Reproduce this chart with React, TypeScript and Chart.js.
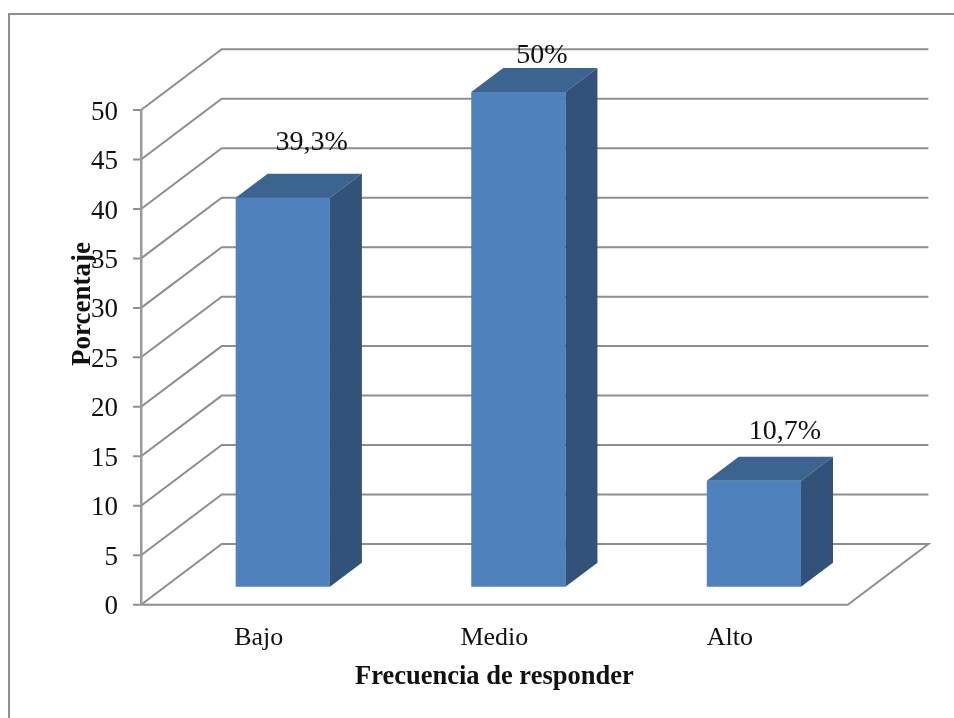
import React, { useEffect, useRef } from "react";
import { Chart, registerables } from "chart.js";

Chart.register(...registerables);

const categories = ["Bajo", "Medio", "Alto"];
const porcentaje = [39.3, 50, 10.7];
const valueLabels = ["39,3%", "50%", "10,7%"];
const yTitle = "Porcentaje";
const xTitle = "Frecuencia de responder";

const labelOffsetX = [29, 23.5, 31];
const labelOffsetY = [-56, -37, -50];

const FONT = "'Liberation Serif', 'Times New Roman', serif";
const GRID = "#8e8e8e";
const WALL_DX = 80.7;
const WALL_DY = 60.7;
const BAR_DX = 24;
const BAR_DY = 18;
const SIDE_DX = 32;
const SIDE_DY = 24;

const poly = (ctx: CanvasRenderingContext2D, pts: number[][], fill: string) => {
  ctx.beginPath();
  pts.forEach((p, i) => (i ? ctx.lineTo(p[0], p[1]) : ctx.moveTo(p[0], p[1])));
  ctx.closePath();
  ctx.fillStyle = fill;
  ctx.fill();
};

const plugin3d = {
  id: "plugin3d",
  beforeDraw(chart: any) {
    const { ctx, chartArea, scales } = chart;
    const y = scales.y;
    ctx.save();
    // outer frame
    ctx.strokeStyle = GRID;
    ctx.lineWidth = 2;
    ctx.beginPath();
    ctx.moveTo(9, chart.height);
    ctx.lineTo(9, 14);
    ctx.lineTo(chart.width, 14);
    ctx.stroke();
    // wall, floor and value-axis ticks
    y.ticks.forEach((t: any) => {
      const py = y.getPixelForValue(t.value);
      ctx.beginPath();
      ctx.moveTo(chartArea.left - 8, py);
      ctx.lineTo(chartArea.left, py);
      ctx.lineTo(chartArea.left + WALL_DX, py - WALL_DY);
      ctx.lineTo(chartArea.right + WALL_DX, py - WALL_DY);
      if (t.value === 0) {
        ctx.lineTo(chartArea.right, py);
        ctx.lineTo(chartArea.left, py);
      }
      ctx.stroke();
    });
    ctx.restore();
  },
  beforeDatasetsDraw(chart: any) {
    chart.ctx.save();
    chart.ctx.translate(BAR_DX, -BAR_DY);
  },
  afterDatasetsDraw(chart: any) {
    const { ctx } = chart;
    chart.getDatasetMeta(0).data.forEach((bar: any) => {
      const l = bar.x - bar.width / 2;
      const r = bar.x + bar.width / 2;
      const t = bar.y;
      const b = bar.base;
      poly(ctx, [[l, t], [r, t], [r + SIDE_DX, t - SIDE_DY], [l + SIDE_DX, t - SIDE_DY]], "#3c6491");
      poly(ctx, [[r, t], [r + SIDE_DX, t - SIDE_DY], [r + SIDE_DX, b - SIDE_DY], [r, b]], "#325279");
    });
    ctx.restore();
    ctx.save();
    ctx.fillStyle = "#111";
    ctx.font = `28px ${FONT}`;
    ctx.textAlign = "center";
    ctx.textBaseline = "middle";
    chart.getDatasetMeta(0).data.forEach((bar: any, i: number) => {
      ctx.fillText(valueLabels[i], bar.x + BAR_DX + labelOffsetX[i], bar.y - BAR_DY + labelOffsetY[i] + 1);
    });
    ctx.restore();
  },
  afterDraw(chart: any) {
    const { ctx } = chart;
    ctx.save();
    ctx.translate(83.5, 304);
    ctx.rotate(-Math.PI / 2);
    ctx.fillStyle = "#111";
    ctx.font = `bold 27px ${FONT}`;
    ctx.textAlign = "center";
    ctx.textBaseline = "middle";
    ctx.fillText(yTitle, 0, 0);
    ctx.restore();
  },
};

export default function App() {
  const ref = useRef<HTMLCanvasElement>(null);
  useEffect(() => {
    document.body.style.margin = "0";
    const chart = new Chart(ref.current!, {
      type: "bar",
      data: {
        labels: categories,
        datasets: [
          {
            label: yTitle,
            data: porcentaje,
            backgroundColor: "#4f81bd",
            barPercentage: 0.4,
            categoryPercentage: 1,
            clip: false,
          } as any,
        ],
      },
      plugins: [plugin3d as any],
      options: {
        responsive: false,
        animation: false,
        layout: { padding: { top: 110, right: 106.3, left: 0, bottom: 0 } },
        plugins: { legend: { display: false }, tooltip: { enabled: false }, title: { display: false } },
        scales: {
          x: {
            afterFit: (s: any) => { s.height = 113.3; },
            grid: { display: false, drawTicks: false },
            border: { display: false },
            ticks: { color: "#111", font: { family: FONT, size: 26 }, padding: 18, maxRotation: 0 },
            title: {
              display: true,
              text: xTitle,
              color: "#111",
              font: { family: FONT, size: 26.5, weight: "bold" },
              padding: { top: 0, bottom: 25 },
            },
          },
          y: {
            min: 0,
            max: 50,
            afterFit: (s: any) => { s.width = 141; },
            grid: { display: false },
            border: { display: true, color: "#999999", width: 2.5 },
            ticks: { stepSize: 5, color: "#111", font: { family: FONT, size: 27 }, padding: 15, labelOffset: 2.5 },
          },
        },
      } as any,
    });
    return () => chart.destroy();
  }, []);
  return (
    <div style={{ width: 954, height: 718 }}>
      <canvas ref={ref} width={954} height={718} style={{ display: "block" }} />
    </div>
  );
}
